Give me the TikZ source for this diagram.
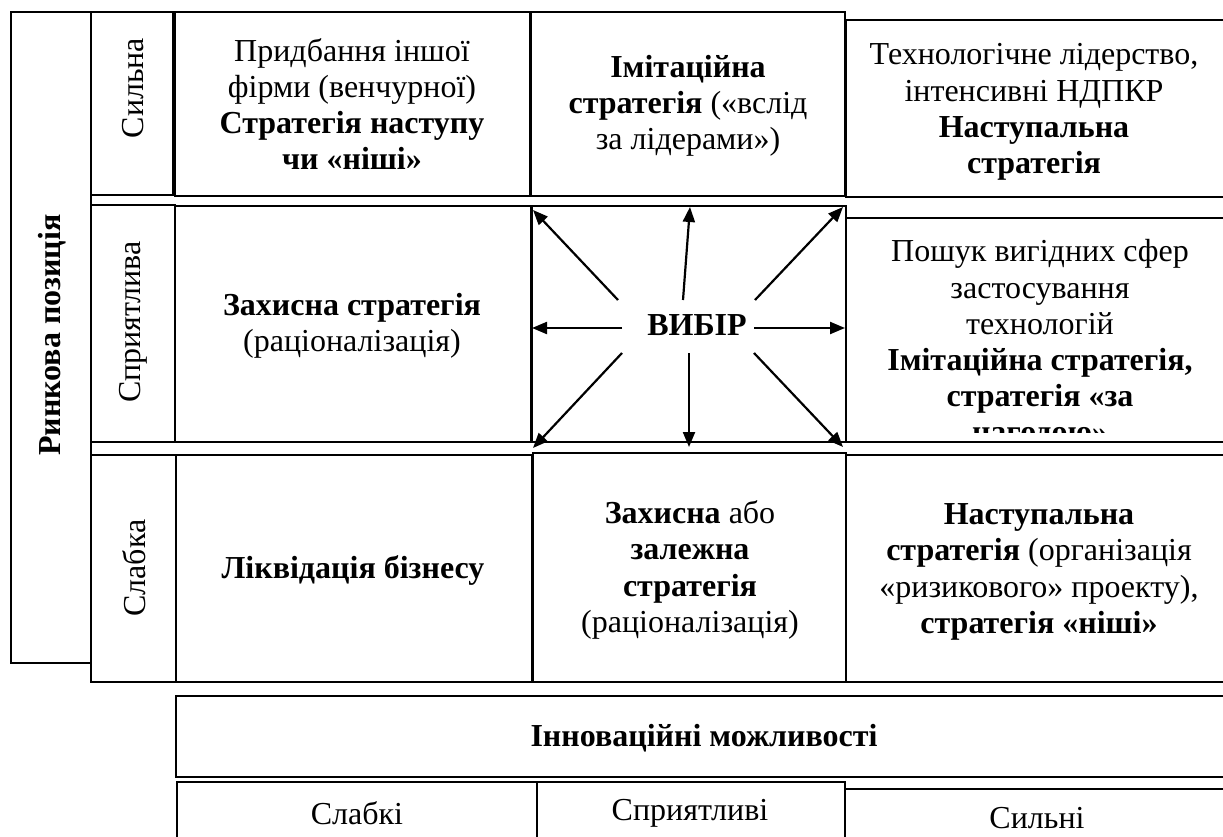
\documentclass[tikz,border=0pt]{standalone}
\usepackage{fontspec}
\setmainfont{Liberation Serif}
\usetikzlibrary{arrows.meta}
\begin{document}
\begin{tikzpicture}[x=1pt,y=-1pt,
  cellbox/.style={draw, line width=2.5pt, inner sep=0pt, minimum width=#1},
  txt/.style={align=center, inner sep=0pt, font=\fontsize{32}{36.2}\selectfont},
  arr/.style={-{Triangle[length=15pt,width=12pt]}, line width=2.2pt}]
\clip (0,0) rectangle (1223,837);
\fill[white] (0,0) rectangle (1223,837);

% axis box and row labels
\node[cellbox=80, minimum height=651] (rbox) at (51,337.5) {};
\node[cellbox=82, minimum height=183] (l1) at (132,103.5) {};
\node[cellbox=84, minimum height=237] (l2) at (133,323.5) {};
\node[cellbox=85, minimum height=227] (l3) at (133.5,568.5) {};

% matrix cells
\node[cellbox=355, minimum height=184] (c11) at (352.5,104) {};
\node[cellbox=314, minimum height=184] (c12) at (688,104) {};
\node[cellbox=394, minimum height=177] (c13) at (1043,108.5) {};
\node[cellbox=356, minimum height=236] (c21) at (353,324) {};
\node[cellbox=314, minimum height=236] (c22) at (689,324) {};
\node[cellbox=394, minimum height=224] (c23) at (1043,330) {};
\node[cellbox=356, minimum height=227] (c31) at (354,568.5) {};
\node[cellbox=313, minimum height=229] (c32) at (689.5,567.5) {};
\node[cellbox=394, minimum height=227] (c33) at (1043,568.5) {};

% bottom axis
\node[cellbox=1064, minimum height=81] (ibox) at (708,736.5) {};
\node[cellbox=360, minimum height=78] (b1) at (357,821) {};
\node[cellbox=308, minimum height=78] (b2) at (691,821) {};
\node[cellbox=395, minimum height=71] (b3) at (1042.5,824.5) {};

% texts
\node[txt, rotate=90] (tr) at (52,335) {\bfseries Ринкова позиція};
\node[txt, rotate=90] (tl1) at (133,88) {Сильна};
\node[txt, rotate=90] (tl2) at (133,322) {Сприятлива};
\node[txt, rotate=90] (tl3) at (134,568) {Слабка};

\node[txt] (t11) at (352,104) {Придбання іншої\\фірми (венчурної)\\\textbf{Стратегія наступу}\\\textbf{чи «ніші»}};
\node[txt] (t12) at (688,106) {\textbf{Імітаційна}\\\textbf{стратегія} («вслід\\за лідерами»)};
\node[txt] (t13) at (1034,112) {Технологічне лідерство,\\інтенсивні НДПКР\\\textbf{Наступальна}\\\textbf{стратегія}};
\node[txt] (t21) at (352,326) {\textbf{Захисна стратегія}\\(раціоналізація)};
\node[txt, font=\fontsize{32}{36.2}\selectfont\bfseries] (vibir) at (697,325) {ВИБІР};
\begin{scope}
  \clip (846,218) rectangle (1240,432);
  \node[txt] (t23) at (1040,344) {Пошук вигідних сфер\\застосування\\технологій\\\textbf{Імітаційна стратегія,}\\\textbf{стратегія «за}\\\textbf{нагодою»}};
\end{scope}
\node[txt] (t31) at (353,570) {\textbf{Ліквідація бізнесу}};
\node[txt] (t32) at (690,570) {\textbf{Захисна} або\\\textbf{залежна}\\\textbf{стратегія}\\(раціоналізація)};
\node[txt] (t33) at (1039,572) {\textbf{Наступальна}\\\textbf{стратегія} (організація\\«ризикового» проекту),\\\textbf{стратегія «ніші»}};

\node[txt] (ti) at (704,738) {\textbf{Інноваційні можливості}};
\node[txt] (tb1) at (357,813) {Слабкі};
\node[txt] (tb2) at (690,813) {Сприятливі};
\node[txt] (tb3) at (1037,818) {Сильні};

% arrows radiating from the choice
\coordinate (s-nw) at (618,300); \coordinate (e-nw) at (533,210);
\coordinate (s-n)  at (683,300); \coordinate (e-n)  at (690,207);
\coordinate (s-ne) at (755,300); \coordinate (e-ne) at (843,207);
\coordinate (s-w)  at (622,328); \coordinate (e-w)  at (532,328);
\coordinate (s-e)  at (754,328); \coordinate (e-e)  at (845,328);
\coordinate (s-sw) at (622,353); \coordinate (e-sw) at (533,448);
\coordinate (s-s)  at (689,353); \coordinate (e-s)  at (689,447);
\coordinate (s-se) at (754,353); \coordinate (e-se) at (843,447);
\foreach \d in {nw,n,ne,w,e,sw,s,se}
  \draw[arr] (s-\d) -- (e-\d);
\end{tikzpicture}
\end{document}
